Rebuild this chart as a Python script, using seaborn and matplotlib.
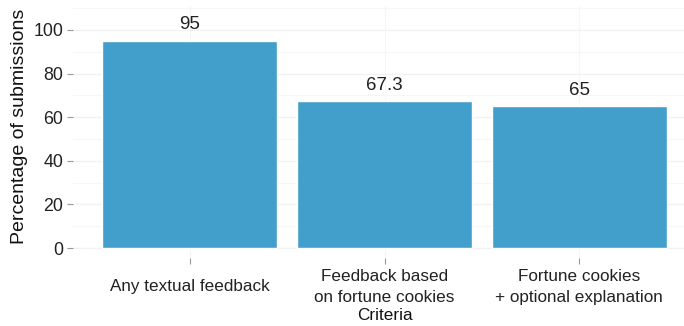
import matplotlib
matplotlib.use("Agg")
import matplotlib.pyplot as plt
import seaborn as sns
import pandas as pd

criteria = ["Any textual feedback",
            "Feedback based\non fortune cookies",
            "Fortune cookies\n+ optional explanation"]
percentages = [95, 67.3, 65]
value_labels = ["95", "67.3", "65"]

df = pd.DataFrame({"Criteria": criteria, "Percentage": percentages})

sns.set_theme(style="white")
plt.rcParams["font.family"] = ["Liberation Sans", "DejaVu Sans"]

W, H = 684, 326
left, right, top, bottom = 73, 696, 6, 258.4
fig = plt.figure(figsize=(W / 100, H / 100), dpi=100)
ax = fig.add_axes([left / W, (H - bottom) / H, (right - left) / W, (bottom - top) / H])

sns.barplot(data=df, x="Criteria", y="Percentage", color="#429ECA",
            width=0.9, saturation=1, ax=ax, zorder=3)

ax.set_xlim(-0.6, 2.6)
ax.set_ylim(-4.75, 111)
ax.set_yticks([0, 20, 40, 60, 80, 100])
ax.set_yticks([10, 30, 50, 70, 90, 110], minor=True)
ax.grid(True, which="major", axis="y", color="#F2F2F2", linewidth=1.0, zorder=0)
ax.grid(True, which="minor", axis="y", color="#F6F6F6", linewidth=0.8, zorder=0)
ax.grid(True, which="major", axis="x", color="#F6F6F6", linewidth=0.8, zorder=0)

for s in ax.spines.values():
    s.set_visible(False)

ax.tick_params(axis="y", which="major", length=4, width=0.8, color="#999999",
               labelsize=12.8, labelcolor="#222222", pad=3, left=True)
ax.tick_params(axis="x", which="major", length=4, width=0.8, color="#999999",
               labelsize=12.3, labelcolor="#222222", pad=16.5, bottom=True)
ax.tick_params(axis="y", which="minor", length=0)
for lab in ax.get_xticklabels():
    lab.set_verticalalignment("center")
    lab.set_linespacing(1.5)

for i, (v, lab) in enumerate(zip(percentages, value_labels)):
    ax.text(i, v + 3.5, lab, ha="center", va="bottom", fontsize=13.5, color="#222222")

ax.set_xlabel("Criteria", fontsize=12.3, color="#111111", va="center")
ax.xaxis.set_label_coords(0.5, (bottom - 315) / (bottom - top))
ax.set_ylabel("Percentage of submissions", fontsize=14.0, color="#111111",
              va="center", ha="center")
ax.yaxis.set_label_coords((19 - left) / (right - left), (bottom - 126.5) / (bottom - top))

fig.savefig("out.png", dpi=100, facecolor="white")
